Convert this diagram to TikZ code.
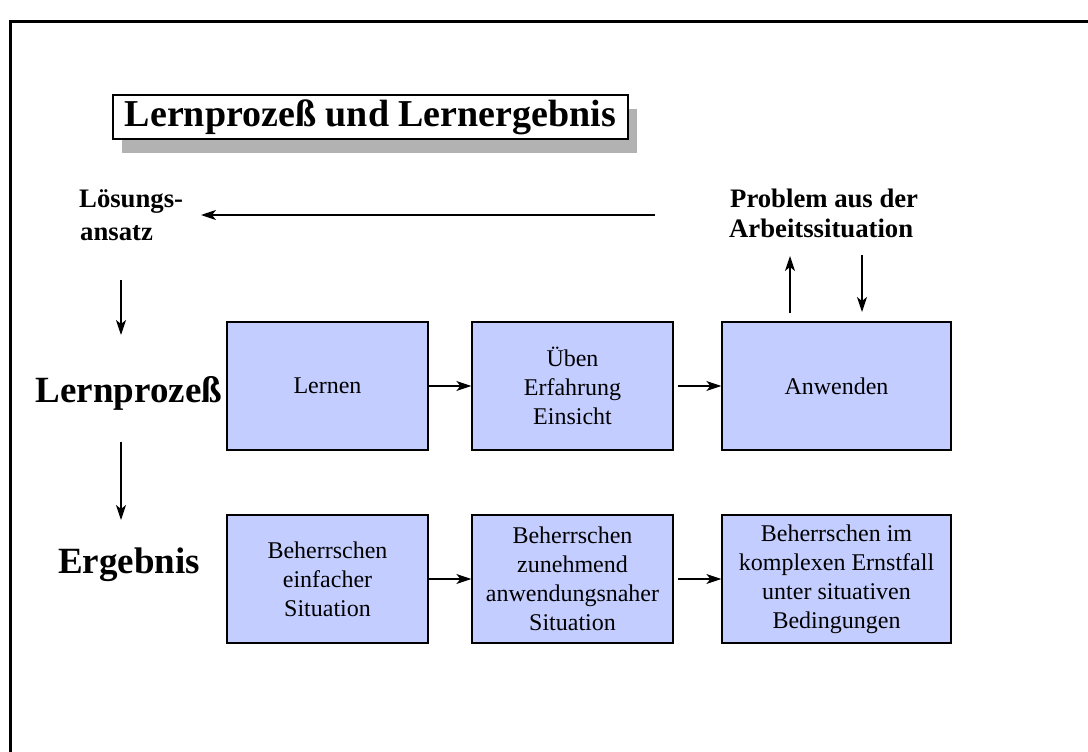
\documentclass[tikz,border=0pt]{standalone}
\usepackage{fontspec}
\setmainfont{Liberation Serif}
\usetikzlibrary{arrows.meta,shadows}
\definecolor{boxblue}{RGB}{195,205,255}
\definecolor{shadowgray}{RGB}{178,178,178}
\begin{document}
\begin{tikzpicture}[x=1pt,y=-1pt,
  stepbox/.style={draw=black, line width=1.3pt, fill=boxblue,
    minimum height=128pt, inner sep=0pt, align=center,
    font=\fontsize{24}{29}\selectfont},
  narrowbox/.style={stepbox, minimum width=201pt},
  widebox/.style={stepbox, minimum width=229pt},
  flow/.style={line width=1.3pt, -{Stealth[length=15pt,width=10pt,inset=4pt]}},
  rowlabel/.style={font=\fontsize{37}{44}\selectfont\bfseries, inner sep=0pt, anchor=base},
  sidelabel/.style={font=\fontsize{26.7}{32}\selectfont\bfseries, inner sep=0pt, anchor=base west}]
\useasboundingbox (0,0) rectangle (1088,752);

% outer frame (only top and left edges lie inside the page)
\draw[line width=3pt] (10,752) -- (10,22) -- (1088,22);

% title with drop shadow
\node[draw=black, line width=1.3pt, fill=white,
      drop shadow={shadow xshift=9pt, shadow yshift=-14pt, fill=shadowgray, opacity=1},
      minimum width=515pt, minimum height=44pt, inner sep=0pt,
      font=\fontsize{38}{44}\selectfont\bfseries]
  (title) at (370.5,117) {Lernprozeß und Lernergebnis};

% labels at the top
\node[sidelabel] (loes1) at (79,207) {Lösungs-};
\node[sidelabel] (loes2) at (80,240) {ansatz};
\node[sidelabel] (prob1) at (730,207) {Problem aus der};
\node[sidelabel] (prob2) at (729,237) {Arbeitssituation};

% row labels
\node[rowlabel] (lp) at (129,402) {Lernprozeß};
\node[rowlabel] (erg) at (129,573) {Ergebnis};

% process row
\node[narrowbox] (lernen)   at (327.5,386) {Lernen};
\node[narrowbox] (ueben)    at (572.5,386) {Üben\\Erfahrung\\Einsicht};
\node[widebox]   (anwenden) at (836.5,386) {Anwenden};

% result row
\node[narrowbox] (einfach)   at (327.5,579) {Beherrschen\\einfacher\\Situation};
\node[narrowbox] (zunehmend) at (572.5,579) {Beherrschen\\zunehmend\\anwendungsnaher\\Situation};
\node[widebox]   (ernstfall) at (836.5,579) {Beherrschen im\\komplexen Ernstfall\\unter situativen\\Bedingungen};

% horizontal flow
\draw[flow] (lernen) -- (ueben);
\draw[flow, shorten <=4pt] (ueben) -- (anwenden);
\draw[flow] (einfach) -- (zunehmend);
\draw[flow, shorten <=4pt] (zunehmend) -- (ernstfall);

% free ends of the remaining arrows
\coordinate (topstart) at (655,215);
\coordinate (topend)   at (201,215);
\coordinate (l1s) at (121,280);
\coordinate (l1e) at (121,335);
\coordinate (l2s) at (121,442);
\coordinate (l2e) at (121,520);
\coordinate (ups) at (790,313);
\coordinate (upe) at (790,256);
\coordinate (dns) at (862,255);
\coordinate (dne) at (862,312);

\draw[flow] (topstart) -- (topend);
\draw[flow] (l1s) -- (l1e);
\draw[flow] (l2s) -- (l2e);
\draw[flow] (ups) -- (upe);
\draw[flow] (dns) -- (dne);
\end{tikzpicture}
\end{document}
